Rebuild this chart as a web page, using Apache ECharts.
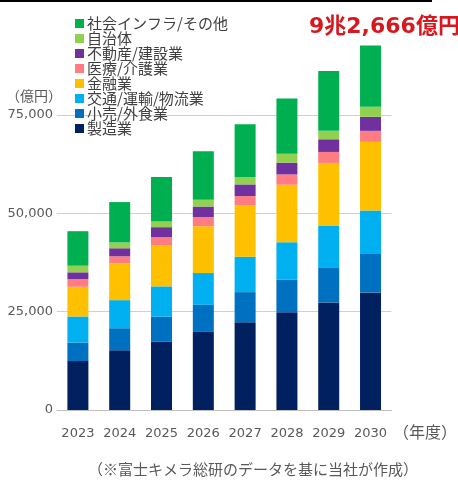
<!DOCTYPE html>
<html>
<head>
<meta charset="utf-8">
<script src="https://cdn.jsdelivr.net/npm/echarts@6/dist/echarts.min.js"></script>
<style>
  html, body { margin: 0; padding: 0; background: #fff; }
  #chart { width: 458px; height: 482px; }
</style>
</head>
<body>
<div id="chart"></div>
<script>
// 年度別の市場規模（億円）
const years = ['2023', '2024', '2025', '2026', '2027', '2028', '2029', '2030'];

const manufacturing = [12450, 15180, 17400, 19850, 22320, 24870, 27350, 29900];   // 製造業
const retail        = [4690, 5610, 6320, 6880, 7650, 8240, 8930, 9770];            // 小売/外食業
const transport     = [6640, 7140, 7710, 8090, 9010, 9540, 10610, 11040];          // 交通/運輸/物流業
const finance       = [7550, 9390, 10360, 11910, 13010, 14620, 15920, 17450];      // 金融業
const medical       = [1960, 1760, 2140, 2300, 2400, 2630, 2800, 2810];            // 医療/介護業
const realEstate    = [1710, 2040, 2550, 2700, 2960, 2980, 3220, 3570];            // 不動産/建設業
const localGov      = [1680, 1480, 1430, 1710, 1890, 2300, 2140, 2550];            // 自治体
const infra         = [8780, 10260, 11330, 12330, 13410, 14030, 15200, 15576];     // 社会インフラ/その他

const yTicks = [0, 25000, 50000, 75000];
const totalLabel = '9兆2,666億円';

const seriesDefs = [
  { name: '製造業', data: manufacturing, color: '#002060' },
  { name: '小売/外食業', data: retail, color: '#0070C0' },
  { name: '交通/運輸/物流業', data: transport, color: '#00B0F0' },
  { name: '金融業', data: finance, color: '#FFC000' },
  { name: '医療/介護業', data: medical, color: '#FF7C80' },
  { name: '不動産/建設業', data: realEstate, color: '#7030A0' },
  { name: '自治体', data: localGov, color: '#92D050' },
  { name: '社会インフラ/その他', data: infra, color: '#00B050' }
];

const FONT = "'DejaVu Sans', 'Noto Sans CJK JP', sans-serif";
const JP = "'Noto Sans CJK JP', sans-serif";

const chart = echarts.init(document.getElementById('chart'), null, { renderer: 'canvas' });

chart.setOption({
  backgroundColor: '#ffffff',
  animation: false,
  grid: { left: 57, right: 35, top: 115, bottom: 72 },
  legend: {
    orient: 'vertical',
    left: 70,
    top: 11,
    itemWidth: 9,
    itemHeight: 9,
    itemGap: 0,
    icon: 'rect',
    data: seriesDefs.map(s => s.name).reverse(),
    textStyle: { fontFamily: JP, fontSize: 15, lineHeight: 15, color: '#404040', padding: [0, 0, 0, -2] }
  },
  xAxis: {
    type: 'category',
    data: years,
    name: '（年度）',
    nameLocation: 'end',
    nameGap: -9,
    nameTextStyle: { fontFamily: JP, fontSize: 16, color: '#595959', align: 'left', verticalAlign: 'top', padding: [14, 0, 0, 0] },
    axisLine: { lineStyle: { color: '#BFBFBF', width: 1 } },
    axisTick: { show: false },
    axisLabel: { interval: 0, fontFamily: FONT, fontSize: 13, color: '#595959', margin: 17 }
  },
  yAxis: {
    type: 'value',
    min: 0,
    max: yTicks[yTicks.length - 1],
    interval: 25000,
    axisLine: { show: false },
    axisTick: { show: false },
    axisLabel: {
      fontFamily: FONT, fontSize: 13, color: '#595959', margin: 4,
      formatter: v => v.toLocaleString('en-US')
    },
    splitLine: { lineStyle: { color: '#CFCFCF', width: 1 } }
  },
  series: seriesDefs.map(s => ({
    name: s.name,
    type: 'bar',
    stack: 'total',
    barWidth: 21,
    clip: false,
    data: s.data,
    itemStyle: { color: s.color }
  })),
  graphic: [
    { type: 'rect', left: 0, top: 0, shape: { width: 432, height: 2 }, style: { fill: '#000000' } },
    {
      type: 'text', left: 309, top: 16,
      style: { text: totalLabel, fontFamily: FONT, fontSize: 22, fontWeight: 'bold', fill: '#D7191F' }
    },
    {
      type: 'text', left: 6, top: 89,
      style: { text: '（億円）', fontFamily: JP, fontSize: 14, fill: '#595959' }
    },
    {
      type: 'text', left: 88, top: 462,
      style: { text: '（※富士キメラ総研のデータを基に当社が作成）', fontFamily: JP, fontSize: 15, fill: '#595959' }
    }
  ]
});
</script>
</body>
</html>
